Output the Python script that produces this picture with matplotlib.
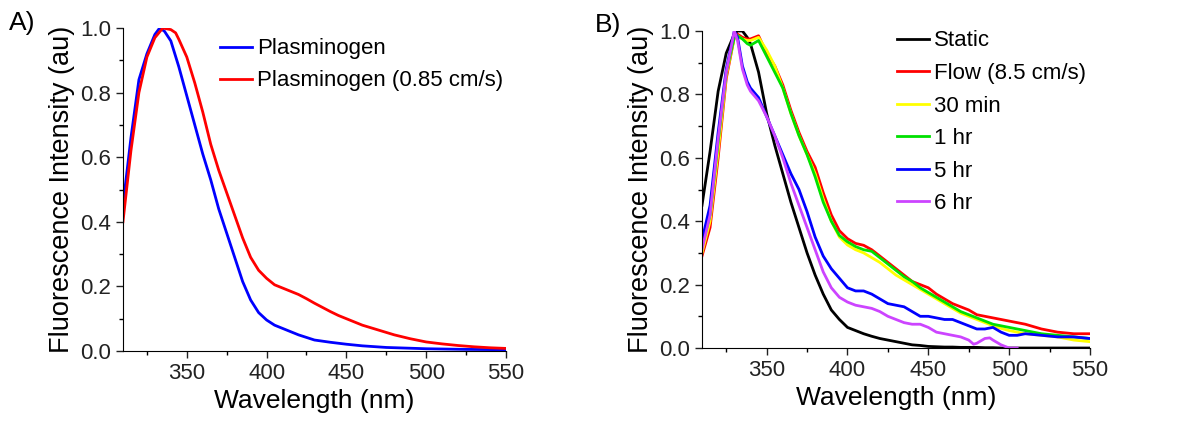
import numpy as np
import matplotlib.pyplot as plt
from matplotlib.ticker import MultipleLocator

plt.rcParams['font.family'] = ['Liberation Sans', 'DejaVu Sans']

# ---- panel A data ----
wlA_blue = [310, 315, 320, 325, 330, 333, 336, 340, 345, 350, 355, 360, 365, 370, 375, 380, 385, 390,
            395, 400, 405, 410, 420, 430, 440, 450, 460, 475, 500, 525, 550]
plasminogen = [0.45, 0.66, 0.84, 0.92, 0.98, 1.0, 0.99, 0.96, 0.88, 0.79, 0.70, 0.61, 0.53, 0.44, 0.365,
               0.29, 0.215, 0.158, 0.119, 0.096, 0.08, 0.07, 0.05, 0.034, 0.027, 0.021, 0.016, 0.011,
               0.007, 0.005, 0.004]
wlA_red = [310, 315, 320, 325, 330, 335, 340, 343, 345, 350, 355, 360, 365, 370, 375, 380, 385, 390,
           395, 400, 405, 410, 415, 420, 425, 430, 435, 440, 445, 450, 455, 460, 470, 480, 490, 500,
           510, 520, 530, 540, 550]
plasminogen_flow = [0.40, 0.62, 0.80, 0.91, 0.97, 1.0, 0.995, 0.985, 0.965, 0.91, 0.83, 0.74, 0.64, 0.56,
                    0.49, 0.42, 0.35, 0.29, 0.25, 0.225, 0.205, 0.195, 0.185, 0.175, 0.162, 0.148, 0.135,
                    0.122, 0.11, 0.10, 0.09, 0.08, 0.065, 0.05, 0.038, 0.028, 0.022, 0.017, 0.013,
                    0.01, 0.008]

# ---- panel B data ----
wlB = [310, 315, 320, 325, 330, 332, 335, 338, 340, 345, 350, 355, 360, 365, 370, 375, 380, 385, 390,
       395, 400, 405, 410, 415, 420, 425, 430, 435, 440, 445, 450, 455, 460, 465, 470, 475, 480, 485,
       490, 495, 500, 505, 510, 520, 530, 540, 550]
static = [0.45, 0.62, 0.81, 0.93, 0.99, 1.0, 1.0, 0.98, 0.96, 0.87, 0.74, 0.64, 0.55, 0.46, 0.38, 0.30,
          0.23, 0.17, 0.12, 0.09, 0.065, 0.055, 0.045, 0.037, 0.03, 0.025, 0.02, 0.015, 0.01, 0.008,
          0.005, 0.004, 0.003, 0.003, 0.002, 0.002, 0.002, 0.001, 0.001, 0.0, 0.0, 0.0, 0.0, 0.0, 0.0,
          0.0, 0.0]
flow = [0.29, 0.38, 0.60, 0.85, 0.98, 0.99, 0.98, 0.975, 0.975, 0.985, 0.93, 0.89, 0.83, 0.75, 0.68,
        0.62, 0.57, 0.49, 0.42, 0.37, 0.345, 0.33, 0.324, 0.31, 0.29, 0.27, 0.25, 0.23, 0.21, 0.20, 0.19,
        0.17, 0.155, 0.14, 0.13, 0.12, 0.105, 0.10, 0.095, 0.09, 0.085, 0.08, 0.075, 0.06, 0.05, 0.045,
        0.045]
min30 = [0.30, 0.40, 0.62, 0.86, 0.98, 0.985, 0.975, 0.97, 0.97, 0.98, 0.94, 0.89, 0.82, 0.74, 0.67,
         0.61, 0.55, 0.47, 0.40, 0.35, 0.325, 0.31, 0.30, 0.285, 0.27, 0.25, 0.23, 0.215, 0.20, 0.185,
         0.17, 0.155, 0.14, 0.125, 0.11, 0.10, 0.09, 0.08, 0.07, 0.062, 0.055, 0.05, 0.045, 0.04,
         0.035, 0.025, 0.02]
hr1 = [0.32, 0.42, 0.65, 0.87, 0.98, 0.985, 0.975, 0.96, 0.955, 0.97, 0.92, 0.87, 0.82, 0.74, 0.67, 0.61,
       0.54, 0.46, 0.40, 0.355, 0.335, 0.32, 0.31, 0.305, 0.285, 0.265, 0.245, 0.225, 0.21, 0.19, 0.175,
       0.16, 0.145, 0.13, 0.115, 0.105, 0.095, 0.085, 0.075, 0.07, 0.065, 0.06, 0.055, 0.045, 0.04,
       0.035, 0.03]
hr5 = [0.34, 0.45, 0.68, 0.88, 1.0, 0.98, 0.89, 0.84, 0.82, 0.79, 0.73, 0.67, 0.61, 0.55, 0.50, 0.43,
       0.35, 0.29, 0.25, 0.22, 0.19, 0.18, 0.18, 0.17, 0.155, 0.14, 0.135, 0.13, 0.115, 0.10, 0.10, 0.095,
       0.09, 0.09, 0.08, 0.07, 0.06, 0.06, 0.065, 0.05, 0.04, 0.04, 0.045, 0.04, 0.035, 0.035, 0.03]
wl6 = [310, 315, 320, 325, 330, 332, 335, 338, 340, 345, 350, 355, 360, 365, 370, 375, 380, 385, 390,
       395, 400, 405, 410, 415, 420, 425, 430, 435, 440, 445, 450, 455, 460, 465, 470, 475, 478, 480,
       485, 488, 490, 495, 500, 505]
hr6 = [0.31, 0.42, 0.66, 0.87, 1.0, 0.97, 0.88, 0.83, 0.81, 0.78, 0.73, 0.67, 0.60, 0.52, 0.45, 0.38,
       0.31, 0.24, 0.19, 0.16, 0.145, 0.135, 0.13, 0.125, 0.115, 0.10, 0.09, 0.08, 0.075, 0.075, 0.065,
       0.05, 0.045, 0.04, 0.035, 0.025, 0.012, 0.015, 0.03, 0.032, 0.025, 0.01, 0.0, 0.0]

fig = plt.figure(figsize=(11.8, 4.23), dpi=100)
axA = fig.add_axes([0.1042, 0.1702, 0.3246, 0.7636])
axB = fig.add_axes([0.5949, 0.1773, 0.3288, 0.7494])

axA.plot(wlA_blue, plasminogen, color='#0000ff', lw=2, label='Plasminogen')
axA.plot(wlA_red, plasminogen_flow, color='#ff0000', lw=2, label='Plasminogen (0.85 cm/s)')

axB.plot(wlB, static, color='black', lw=2, label='Static')
axB.plot(wlB, flow, color='#ff0000', lw=2, label='Flow (8.5 cm/s)')
axB.plot(wlB, min30, color='#ffff00', lw=2, label='30 min')
axB.plot(wlB, hr1, color='#00e000', lw=2, label='1 hr')
axB.plot(wlB, hr5, color='#0000ff', lw=2, label='5 hr')
axB.plot(wl6, hr6, color='#cc44ff', lw=2, label='6 hr')

for ax in (axA, axB):
    ax.set_xlim(310, 550)
    ax.set_ylim(0, 1.0)
    ax.spines['top'].set_visible(False)
    ax.spines['right'].set_visible(False)
    ax.xaxis.set_major_locator(MultipleLocator(50))
    ax.xaxis.set_minor_locator(MultipleLocator(25))
    ax.yaxis.set_minor_locator(MultipleLocator(0.1))
    ax.set_yticks([0, 0.2, 0.4, 0.6, 0.8, 1.0])
    ax.set_yticklabels(['0.0', '0.2', '0.4', '0.6', '0.8', '1.0'])
    ax.tick_params(which='major', direction='out', length=5, width=1, labelsize=16, colors='#222222')
    ax.tick_params(which='minor', direction='out', length=3, width=1)
    ax.set_xlabel('Wavelength (nm)', fontsize=19)
    ax.set_ylabel('Fluorescence Intensity (au)', fontsize=19.5)

axA.legend(frameon=False, fontsize=16, handlelength=1.45, handletextpad=0.25,
           labelspacing=0.5, loc='upper left', bbox_to_anchor=(0.20, 1.03))
axB.legend(frameon=False, fontsize=16, handlelength=1.45, handletextpad=0.25,
           labelspacing=0.52, loc='upper left', bbox_to_anchor=(0.45, 1.065))

fig.text(0.008, 0.93, 'A)', fontsize=19)
fig.text(0.504, 0.925, 'B)', fontsize=19)

fig.savefig('out.png', dpi=100)
